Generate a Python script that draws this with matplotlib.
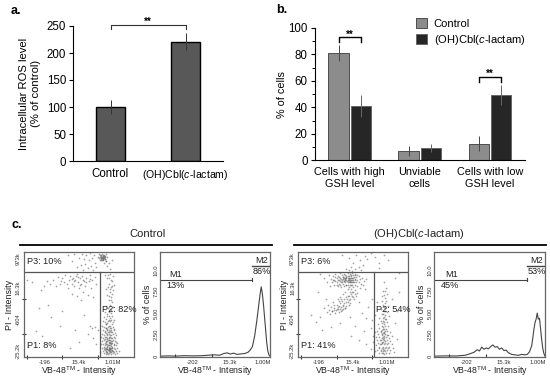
import matplotlib
matplotlib.use("Agg")
import matplotlib.pyplot as plt

plt.rcParams["font.family"] = ["Liberation Sans", "DejaVu Sans"]
plt.rcParams["mathtext.fontset"] = "custom"
plt.rcParams["mathtext.rm"] = "Liberation Sans"
plt.rcParams["mathtext.it"] = "Liberation Sans:italic"

W, H = 550, 381
DRUG = r"(OH)Cbl($\mathit{c}$-lactam)"
VB48 = r"VB-48$^{\mathrm{TM}}$ - Intensity"

# panel a
ros_labels = ["Control", DRUG]
ros_values = [100, 221]
ros_errors = [13, 16]

# panel b
gsh_labels = ["Cells with high\nGSH level", "Unviable\ncells", "Cells with low\nGSH level"]
gsh_control = [81, 7, 12.5]
gsh_control_err = [6, 3.5, 5.5]
gsh_drug = [41, 9, 49.5]
gsh_drug_err = [8, 3, 7.5]

# panel c histograms, x in % of the channel range
hist_ctrl_x = [0, 8, 14, 22, 30, 38, 45, 50, 54, 58, 61, 64, 67, 70, 73, 77, 80, 82, 84, 86, 88, 90, 91, 92, 93, 94, 95, 96, 97, 98, 99, 100]
hist_ctrl_y = [0, .03, 0, .05, .03, .05, .12, .15, .1, .3, .38, .25, .35, .2, .25, .3, .45, .7, 1.1, 2.3, 4.1, 6.2, 7.2, 8.05, 7.3, 6.1, 4.6, 3.1, 1.6, .6, .15, 0]
hist_drug_x = [0, 10, 20, 28, 33, 36, 39, 41, 43, 45, 47, 49, 51, 53, 55, 57, 59, 61, 63, 65, 67, 70, 73, 76, 79, 82, 84, 86, 88, 89, 90, 91, 92, 93, 94, 95, 96, 97, 98, 99, 100]
hist_drug_y = [0, .03, .02, .1, .3, .45, .75, .6, 1.05, .8, .95, .85, 1.1, 1.3, 1.05, 1.1, .8, .95, .65, .7, .4, .2, .15, .1, .2, .15, .2, .5, 1.2, 2.1, 3.1, 3.9, 4.3, 5.0, 4.3, 4.4, 3.2, 1.9, .9, .3, 0]

scatter_ctrl = [
    (3, 73), (8, 71), (14, 47), (16, 64), (19, 68), (21, 72), (24, 70), (27, 73), (29, 68), (31, 76),
    (33, 70), (35, 75), (37, 71), (38, 78), (40, 66), (41, 73), (42, 77), (44, 70), (45, 75), (46, 68),
    (47, 73), (48, 79), (49, 71), (50, 66), (51, 75), (52, 70), (53, 77), (54, 62), (55, 72), (56, 68),
    (57, 75), (58, 59), (59, 72), (60, 78), (61, 66), (62, 73), (63, 57), (65, 76), (66, 70), (48, 58),
    (52, 54), (44, 60), (22, 50), (35, 44), (11, 25), (25, 38), (33, 30), (47, 26), (55, 40), (58, 22),
    (60, 30), (62, 28), (65, 29), (67, 26), (63, 18), (66, 12), (4, 10), (17, 20), (42, 9), (50, 14),
    (40, 97), (44, 91), (46, 98), (48, 86), (50, 94), (52, 88), (53, 98), (54, 83), (55, 93), (56, 89),
    (57, 97), (58, 85), (59, 92), (60, 99), (61, 87), (62, 94), (63, 83), (64, 97), (65, 90), (66, 86),
    (67, 95), (68, 98), (69, 92), (70, 96), (70, 93), (71, 98), (71, 94), (72, 95), (72, 92), (73, 97),
    (73, 94), (74, 93), (74, 96), (75, 98), (75, 91), (76, 95), (76, 87), (77, 90), (78, 84), (80, 92),
    (69, 95), (70, 94), (71, 95), (72, 94), (72, 97), (73, 95), (71, 92), (70, 97), (74, 95), (72, 93),
    (74, 78), (76, 75), (78, 79), (80, 72), (81, 77), (77, 70), (79, 67), (82, 69), (75, 65), (78, 62),
    (81, 64), (76, 59), (79, 57), (80, 60), (77, 54), (80, 52), (75, 49), (78, 46), (81, 48), (74, 43),
    (76, 41), (79, 42), (73, 38), (75, 36), (78, 37), (80, 39), (82, 35), (72, 34), (74, 33), (76, 32),
    (78, 34), (80, 31), (81, 33), (71, 30), (73, 29), (75, 28), (77, 30), (79, 28), (81, 29), (82, 27),
    (72, 26), (74, 25), (76, 26), (78, 25), (80, 24), (82, 26), (71, 22), (73, 21), (75, 23), (77, 22),
    (79, 21), (81, 22), (83, 23), (84, 21), (70, 19), (72, 18), (74, 19), (76, 18), (78, 19), (80, 18),
    (82, 19), (83, 18), (71, 15), (73, 16), (75, 15), (77, 16), (79, 15), (81, 16), (83, 15), (84, 14),
    (72, 12), (74, 13), (75, 12), (77, 13), (79, 12), (80, 13), (82, 12), (84, 11), (85, 13), (71, 9),
    (73, 10), (74, 9), (76, 10), (78, 9), (80, 10), (82, 9), (83, 8), (85, 9), (72, 6), (74, 7),
    (75, 6), (77, 7), (78, 6), (79, 7), (81, 6), (82, 5), (84, 6), (73, 4), (75, 3), (77, 4),
    (79, 3), (81, 4), (83, 3), (85, 4), (86, 6), (70, 12), (69, 5), (76, 8), (77, 10), (78, 8),
    (76, 5), (77, 9), (78, 11), (79, 9), (79, 5), (80, 7), (75, 9), (76, 12), (77, 14), (78, 13),
    (76, 15), (77, 18), (78, 21), (75, 19), (76, 22), (77, 26), (75, 31), (77, 35), (78, 28), (79, 18),
    (74.5, 27.5), (76.5, 24), (75.5, 20.5), (73.5, 17.5), (77.5, 19.5), (79.5, 23.5), (76.5, 16.5), (74.5, 14.5), (78.5, 14), (75.5, 10.5),
    (73.5, 11.5), (77.5, 11.5), (79.5, 10.5), (76.5, 6.5), (74.5, 5), (78.5, 4.5), (80.5, 5.5), (75.5, 4), (77.5, 5.5), (76.5, 3),
    (72.5, 8), (74.5, 8), (78.5, 7.5), (80.5, 8.5), (81.5, 11), (79.5, 13.5), (80.5, 15), (77.5, 7.5), (75.5, 7.5), (76.5, 11),
    (78.5, 16.5), (75.5, 17), (77.5, 23.5), (79.5, 25.5), (75.5, 26.5), (73.5, 23.5), (78.5, 30), (76.5, 29), (74.5, 31), (76.5, 34),
    (77.5, 39), (79.5, 35.5), (75.5, 39.5), (77.5, 43), (79.5, 45), (76.5, 47), (78.5, 50), (79.5, 54.5), (77.5, 58), (78.5, 65),
    (79.5, 73), (77.5, 75), (76.5, 67), (80.5, 68), (76.5, 78),
    (70.5, 95.5), (71.5, 96.5), (72.5, 96), (71.5, 93), (70.5, 92), (73.5, 93), (69.5, 97), (68.5, 94), (72.5, 90), (74.5, 91.5),
    (45.5, 72), (49.5, 76), (53.5, 73), (43.5, 74), (39.5, 70), (51.5, 69), (56.5, 71), (60.5, 74), (34, 72), (47.5, 77),
]
scatter_drug = [
    (40, 97), (46, 94), (50, 90), (53, 97), (56, 92), (59, 88), (61, 96), (63, 93), (66, 99), (70, 95),
    (74, 90), (78, 97), (82, 92), (48, 86), (52, 84), (55, 86), (57, 83), (46, 83), (49, 82), (44, 84),
    (20, 79), (24, 75), (26, 71), (28, 78), (29, 68), (30, 74), (31, 71), (32, 77), (33, 69), (33, 73),
    (34, 79), (35, 71), (35, 75), (36, 68), (36, 77), (37, 73), (37, 70), (38, 80), (38, 75), (39, 71),
    (39, 67), (40, 78), (40, 73), (41, 70), (41, 76), (42, 79), (42, 72), (42, 68), (43, 75), (43, 71),
    (44, 77), (44, 73), (44, 69), (45, 80), (45, 75), (45, 71), (46, 77), (46, 73), (46, 67), (47, 79),
    (47, 75), (47, 71), (48, 77), (48, 73), (48, 69), (49, 80), (49, 75), (49, 71), (50, 78), (50, 73),
    (50, 67), (51, 76), (51, 71), (52, 79), (52, 74), (52, 69), (53, 76), (53, 71), (54, 73), (54, 68),
    (55, 77), (55, 71), (56, 74), (56, 66), (57, 70), (58, 75), (59, 69), (60, 72), (61, 65), (62, 74),
    (41, 74), (43, 73), (45, 73), (46, 75), (47, 73), (48, 75), (49, 73), (50, 75), (44, 75), (42, 75),
    (40, 71), (38, 72), (36, 73), (34, 72), (46, 71), (48, 71), (50, 71), (47, 69), (45, 69), (43, 78),
    (24, 47), (26, 43), (27, 50), (28, 45), (29, 41), (30, 48), (31, 44), (32, 52), (33, 47), (34, 42),
    (35, 50), (36, 55), (36, 46), (37, 43), (38, 51), (38, 57), (39, 48), (40, 53), (40, 45), (41, 60),
    (41, 50), (42, 55), (43, 47), (43, 62), (44, 52), (45, 58), (45, 65), (46, 50), (47, 62), (47, 55),
    (48, 65), (49, 58), (50, 62), (51, 55), (52, 64), (53, 58), (54, 61), (55, 52), (33, 50), (35, 46),
    (37, 49), (39, 44), (41, 46), (42, 51), (44, 49), (46, 54), (48, 60), (50, 57), (25, 55), (18, 62),
    (16, 33), (20, 38), (30, 29), (38, 32), (47, 38), (52, 30), (58, 42), (62, 37), (60, 25), (66, 28),
    (55, 16), (62, 12), (48, 20), (67, 35), (68, 20), (12, 40), (22, 26), (64, 48), (67, 55),
    (78, 71), (80, 66), (77, 63), (81, 60), (79, 56), (76, 58), (80, 53), (77, 50), (82, 49), (79, 47),
    (75, 46), (78, 44), (81, 43), (76, 41), (79, 40), (83, 39), (74, 37), (77, 37), (80, 36), (75, 34),
    (78, 33), (81, 33), (73, 31), (76, 30), (79, 30), (82, 30), (74, 28), (77, 27), (80, 27), (72, 25),
    (75, 25), (78, 24), (81, 25), (84, 24), (73, 22), (76, 22), (79, 22), (82, 21), (71, 19), (74, 19),
    (77, 19), (80, 19), (83, 18), (85, 20), (72, 16), (75, 16), (78, 16), (81, 16), (84, 15), (73, 13),
    (76, 13), (79, 13), (82, 13), (85, 12), (71, 11), (74, 10), (77, 10), (80, 10), (83, 10), (72, 7),
    (75, 7), (78, 7), (81, 7), (84, 7), (86, 9), (74, 4), (77, 4), (80, 4), (83, 4), (70, 6),
    (76, 26), (77, 23), (78, 20), (77, 17), (76, 14), (78, 12), (77, 8), (79, 9), (76, 9), (78, 27),
    (78, 31), (77, 34), (79, 36), (88, 32), (90, 17), (66, 8), (68, 14), (70, 24), (87, 5), (90, 44),
    (88, 75), (92, 80), (74, 85), (85, 55), (70, 40), (72, 52), (92, 62),
    (75.5, 23.5), (77.5, 28.5), (79.5, 25), (76.5, 18), (74.5, 16.5), (78.5, 18), (80.5, 21), (75.5, 12), (77.5, 14.5), (79.5, 15),
    (73.5, 9), (75.5, 5.5), (77.5, 6), (79.5, 5.5), (81.5, 9), (80.5, 12), (78.5, 3), (76.5, 3.5), (74.5, 12.5), (76.5, 20.5),
    (78.5, 23), (76.5, 32), (78.5, 38), (77.5, 41), (79.5, 43.5), (78.5, 48), (76.5, 53), (79.5, 51), (78.5, 59), (79.5, 63),
    (39.5, 74), (41.5, 72), (43.5, 76), (45.5, 77.5), (47.5, 72), (49.5, 69), (51.5, 73), (37.5, 76), (35.5, 69), (43.5, 69),
    (42.5, 74), (44.5, 72), (46.5, 74), (48.5, 78), (40.5, 76), (38.5, 69), (33.5, 76), (31.5, 73), (53.5, 78), (51.5, 78),
    (36.5, 48), (38.5, 46), (40.5, 49), (42.5, 47), (44.5, 55), (46.5, 58), (34.5, 45), (32.5, 45), (30.5, 44), (47.5, 51),
    (49.5, 62), (43.5, 57), (45.5, 52), (51.5, 60), (39.5, 55), (37.5, 53),
]

scatter_xticks = [19, 50, 81]
scatter_xmarks = [3, 35, 67]
scatter_yticks = [6, 36, 66, 94]
scatter_ymarks = [22, 55]
hist_yticks = [0, 2.5, 5, 7.5, 10]
hist_xticks = [29.5, 63, 93]
hist_xmarks = [13.5, 47]

fig = plt.figure(figsize=(W / 100, H / 100), dpi=100)


def axes_px(left, top, right, bottom):
    return fig.add_axes([left / W, 1 - bottom / H, (right - left) / W, (bottom - top) / H])


def bracket(ax, x0, x1, top, drop, color="black", lw=1.0):
    ax.plot([x0, x0, x1, x1], [top - drop, top, top, top - drop], color=color, lw=lw, clip_on=False)
    ax.text((x0 + x1) / 2, top - drop * 0.5, "**", ha="center", va="bottom", fontsize=7, fontweight="bold", clip_on=False)


# a
ax = axes_px(73, 26, 223, 161)
ax.bar([0, 1], ros_values, 0.385, color="#585858", edgecolor="black", lw=1.0)
ax.errorbar([0, 1], ros_values, yerr=ros_errors, fmt="none", ecolor="#333333", elinewidth=0.7)
ax.set_xlim(-0.5, 1.5)
ax.set_ylim(0, 250)
ax.set_xticks([0, 1], ros_labels, fontsize=7.6)
ax.get_xticklabels()[0].set_fontsize(8.3)
ax.tick_params(axis="x", length=0, pad=5)
ax.tick_params(axis="y", labelsize=8.3, length=3, width=0.8, pad=2)
ax.set_ylabel("Intracellular ROS level\n(% of control)", fontsize=8.1, labelpad=4, linespacing=1.3)
ax.spines[["top", "right"]].set_visible(False)
bracket(ax, 0, 1, 252, 8, color="#333333", lw=0.8)

# b
ax = axes_px(314.7, 28, 525, 160.3)
pos = list(range(len(gsh_labels)))
ax.bar([p - 0.16 for p in pos], gsh_control, 0.29, color="#8c8c8c", edgecolor="#4d4d4d", lw=0.7, label="Control")
ax.bar([p + 0.16 for p in pos], gsh_drug, 0.29, color="#262626", edgecolor="#666666", lw=0.7, label=DRUG)
ax.errorbar([p - 0.16 for p in pos], gsh_control, yerr=gsh_control_err, fmt="none", ecolor="#444444", elinewidth=0.7)
ax.errorbar([p + 0.16 for p in pos], gsh_drug, yerr=gsh_drug_err, fmt="none", ecolor="#666666", elinewidth=0.7)
ax.set_xlim(-0.5, 2.5)
ax.set_ylim(0, 100)
ax.set_xticks(pos, gsh_labels, fontsize=7.8, linespacing=1.25)
ax.tick_params(axis="x", length=0, pad=5)
ax.set_yticks(range(0, 101, 20))
ax.set_yticks(range(10, 100, 20), minor=True)
ax.tick_params(axis="y", which="major", labelsize=8.3, length=3, width=0.8, pad=2)
ax.tick_params(axis="y", which="minor", length=2, width=0.7)
ax.set_ylabel("% of cells", fontsize=7.8, labelpad=1)
ax.spines[["top", "right"]].set_visible(False)
bracket(ax, -0.16, 0.16, 93, 3.5)
bracket(ax, 1.84, 2.16, 63, 3.5)
ax.legend(loc="upper left", bbox_to_anchor=(0.482, 1.075), frameon=False, fontsize=8.0,
          handlelength=1.0, handleheight=1.0, handletextpad=0.6, labelspacing=0.35, borderpad=0, borderaxespad=0)


def dot_plot(left, right, points, p1, p2, p3):
    ax = axes_px(left, 252, right, 357)
    ax.scatter([p[0] for p in points], [p[1] for p in points], s=1.5, c="#555555", alpha=0.55, linewidths=0)
    ax.axvline(69, ymin=0, ymax=0.81, color="#555555", lw=0.9)
    ax.axhline(81, color="#555555", lw=0.9)
    ax.set_xlim(0, 100)
    ax.set_ylim(0, 100)
    ax.set_xticks(scatter_xticks, ["-196", "15.4k", "1.01M"], fontsize=4.2, color="#333333")
    ax.set_yticks(scatter_yticks, ["-25.2k", "-604", "16.3k", "973k"], fontsize=4.2, color="#333333", rotation=90, va="center")
    ax.tick_params(length=0, pad=2)
    ax.set_xticks(scatter_xmarks, minor=True)
    ax.set_yticks(scatter_ymarks, minor=True)
    ax.tick_params(which="minor", length=3, width=0.8, direction="inout", color="#333333")
    for spine in ax.spines.values():
        spine.set_color("#666666")
        spine.set_linewidth(0.9)
    ax.text(3, 95, p3, fontsize=6.6, va="top", color="#222222")
    ax.text(71, 45, p2, fontsize=6.6, va="center", color="#222222")
    ax.text(3, 11, p1, fontsize=6.6, va="center", color="#222222")
    ax.set_xlabel(VB48, fontsize=6.3, labelpad=0, color="#222222")
    ax.set_ylabel("PI - Intensity", fontsize=6.5, labelpad=1, color="#222222")


def hist_plot(left, right, xs, ys, m1, m2, m1_x):
    ax = axes_px(left, 252, right, 357)
    ax.plot(xs, ys, color="#444444", lw=0.8)
    ax.set_xlim(0, 100)
    ax.set_ylim(-0.1, 12.1)
    ax.plot([0, 84], [8.9, 8.9], color="#444444", lw=0.8)
    ax.plot([84, 84], [8.75, 9.05], color="#444444", lw=0.8)
    ax.plot([84, 99], [10.5, 10.5], color="#444444", lw=1.0)
    ax.text(m1_x, 9.0, "M1", fontsize=6.6, va="bottom", color="#222222")
    ax.text(6, 8.7, m1, fontsize=6.6, va="top", color="#222222")
    ax.text(87, 10.6, "M2", fontsize=6.6, va="bottom", color="#222222")
    ax.text(84, 10.3, m2, fontsize=6.6, va="top", color="#222222")
    ax.set_xticks(hist_xticks, ["-202", "15.3k", "1.00M"], fontsize=4.2, color="#333333")
    ax.set_yticks(hist_yticks, ["0", "2.50", "5.00", "7.50", "10.0"], fontsize=4.2, color="#333333", rotation=90, va="center")
    ax.tick_params(axis="x", length=0, pad=2)
    ax.tick_params(axis="y", length=0, pad=1)
    ax.set_xticks(hist_xmarks, minor=True)
    ax.tick_params(which="minor", length=2, width=0.8, direction="in", color="#333333")
    for spine in ax.spines.values():
        spine.set_color("#666666")
        spine.set_linewidth(0.9)
    ax.set_xlabel(VB48, fontsize=6.3, labelpad=0, color="#222222")
    ax.set_ylabel("% of cells", fontsize=6.6, labelpad=1, color="#222222")


dot_plot(23.5, 134, scatter_ctrl, "P1: 8%", "P2: 82%", "P3: 10%")
hist_plot(160, 270, hist_ctrl_x, hist_ctrl_y, "13%", "86%", 8)
dot_plot(298, 408, scatter_drug, "P1: 41%", "P2: 54%", "P3: 6%")
hist_plot(434, 545, hist_drug_x, hist_drug_y, "45%", "53%", 10)

# panel letters, group titles and rules
top = fig.add_axes([0, 0, 1, 1], zorder=-1)
top.set_xlim(0, W)
top.set_ylim(H, 0)
top.axis("off")
top.text(11, 11, "a.", fontsize=9, fontweight="bold", va="center")
top.text(276, 10, "b.", fontsize=9, fontweight="bold", va="center")
top.text(11, 225, "c.", fontsize=9, fontweight="bold", va="center")
top.text(147, 234, "Control", fontsize=8, ha="center", va="center", color="#222222")
top.text(419, 234, DRUG, fontsize=8, ha="center", va="center", color="#222222")
top.plot([20, 272], [245, 245], color="black", lw=1.3)
top.plot([294, 546], [245, 245], color="black", lw=1.3)

fig.savefig("out.png", dpi=100)
